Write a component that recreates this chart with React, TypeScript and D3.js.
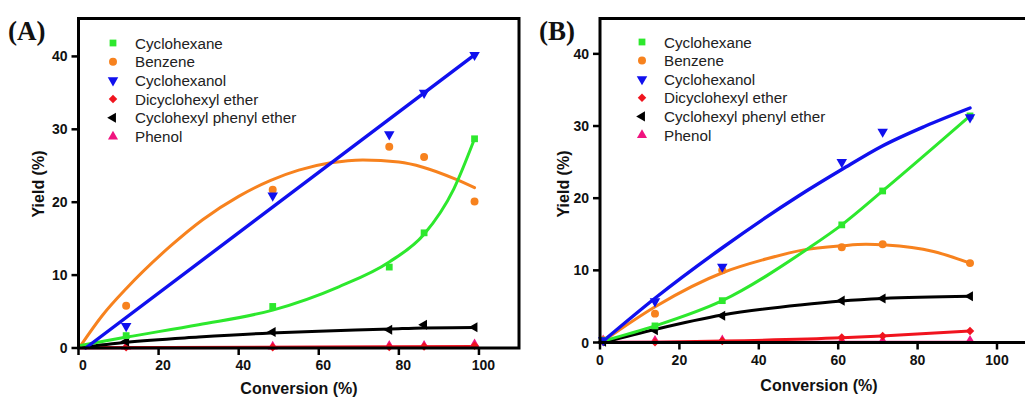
import React from "react";
import * as d3 from "d3";

// ---------- DATA ----------
const seriesNames = [
  "Cyclohexane",
  "Benzene",
  "Cyclohexanol",
  "Dicyclohexyl ether",
  "Cyclohexyl phenyl ether",
  "Phenol",
];
const seriesColors = ["#2de82d", "#f7821e", "#1010ee", "#f0141e", "#000000", "#f0147f"];
const seriesShapes = ["square", "circle", "triDown", "diamond", "triLeft", "triUp"];

const xTicks = [0, 20, 40, 60, 80, 100];
const yTicks = [0, 10, 20, 30, 40];

// Panel A measured points
const convA = [11.9, 48.5, 77.6, 86.3, 98.9];
const A_cyclohexane = [1.7, 5.7, 11.1, 15.8, 28.7];
const A_benzene = [5.8, 21.7, 27.6, 26.2, 20.1];
const A_cyclohexanol = [3.0, 20.9, 29.3, 35.0, 40.2];
const A_dicyclohexylEther = [0.1, 0.1, 0.15, 0.2, 0.3];
const A_cyclohexylPhenylEther = [0.9, 2.2, 2.5, 3.2, 2.85];
const A_phenol = [0.2, 0.2, 0.3, 0.3, 0.5];

// Panel A fitted curves
const fitA_cyclohexane: [number, number][] = [[0, 0.3], [12, 1.5], [30, 3.2], [48.5, 5.2], [65, 8.4], [77.6, 11.8], [86.3, 15.6], [93.7, 21.8], [98.9, 28.7]];
const fitA_benzene: [number, number][] = [[0.5, 0.3], [6, 4.5], [12, 8.2], [23, 14.0], [31, 17.6], [40, 20.8], [48, 23.0], [55, 24.4], [63, 25.4], [71, 25.8], [80, 25.5], [86, 24.8], [94, 23.2], [98.9, 22.0]];
const fitA_cyclohexanol: [number, number][] = [[1.8, 0], [98.9, 40.2]];
const fitA_dicyclohexylEther: [number, number][] = [[0, 0.05], [98.9, 0.2]];
const fitA_cyclohexylPhenylEther: [number, number][] = [[0, 0.05], [12, 0.8], [30, 1.5], [48, 2.05], [60, 2.3], [78, 2.6], [86, 2.75], [98.9, 2.8]];
const fitA_phenol: [number, number][] = [[0, 0.05], [98.9, 0.1]];

// Panel B measured points
const convB = [0.8, 13.85, 30.8, 60.9, 71.2, 93.2];
const B_cyclohexane = [0.3, 2.3, 5.8, 16.3, 21.0, 31.4];
const B_benzene = [0.3, 4.0, 10.0, 13.2, 13.6, 11.0];
const B_cyclohexanol = [0.3, 5.7, 10.5, 25.0, 29.2, 31.2];
const B_dicyclohexylEther = [0.1, 0.05, 0.2, 0.7, 0.9, 1.6];
const B_cyclohexylPhenylEther = [0.1, 1.7, 3.7, 5.8, 6.1, 6.4];
const B_phenol = [0.3, 0.25, 0.3, 0.2, 0.2, 0.25];

// Panel B fitted curves
const fitB_cyclohexane: [number, number][] = [[0.8, 0.2], [13.85, 2.3], [30.8, 5.8], [52.9, 13.2], [60.9, 16.3], [71.2, 21.0], [93.2, 31.4]];
const fitB_benzene: [number, number][] = [[0.8, 0.2], [14, 5.0], [31, 9.7], [42, 11.6], [51, 12.8], [61, 13.4], [67, 13.6], [72, 13.5], [84, 12.6], [93.2, 11.0]];
const fitB_cyclohexanol: [number, number][] = [[0.8, 0.2], [14, 6.2], [31, 13.2], [50, 20.3], [61, 24.0], [71, 27.2], [82, 30.0], [93.2, 32.5]];
const fitB_dicyclohexylEther: [number, number][] = [[0.8, 0.0], [14, 0.05], [31, 0.2], [61, 0.65], [71, 0.9], [93.2, 1.6]];
const fitB_cyclohexylPhenylEther: [number, number][] = [[0.8, 0.0], [13.85, 1.8], [30.8, 3.8], [50.4, 5.2], [60.9, 5.75], [71.2, 6.1], [93.2, 6.4]];
const fitB_phenol: [number, number][] = [[0.8, 0.05], [93.2, 0.05]];

// ---------- DRAWING ----------
const SANS = "'Liberation Sans', Arial, Helvetica, sans-serif";
const SERIF = "'Liberation Serif', 'Times New Roman', serif";

function markerPath(shape: string): { d: string; rot: number } {
  switch (shape) {
    case "square":
      return { d: d3.symbol().type(d3.symbolSquare).size(46)()!, rot: 0 };
    case "circle":
      return { d: d3.symbol().type(d3.symbolCircle).size(50)()!, rot: 0 };
    case "diamond":
      return { d: d3.symbol().type(d3.symbolSquare).size(36)()!, rot: 45 };
    case "triDown":
      return { d: d3.symbol().type(d3.symbolTriangle).size(48)()!, rot: 180 };
    case "triLeft":
      return { d: d3.symbol().type(d3.symbolTriangle).size(44)()!, rot: -90 };
    case "triUp":
      return { d: d3.symbol().type(d3.symbolTriangle).size(44)()!, rot: 0 };
  }
  return { d: "", rot: 0 };
}

function Marker({ x, y, shape, color }: { x: number; y: number; shape: string; color: string }) {
  const m = markerPath(shape);
  return <path d={m.d} transform={`translate(${x},${y}) rotate(${m.rot})`} fill={color} />;
}

type PanelProps = {
  label: string;
  labelX: number;
  x0: number;
  x1: number;
  xMax: number;
  y0: number;
  y1: number;
  yMax: number;
  xLabelDx: number;
  conv: number[];
  values: number[][];
  fits: [number, number][][];
  legendX: number;
  legendY: number;
  legendStep: number;
  yTitleX: number;
  xTitleX: number;
  xTitleY: number;
};

function Panel(p: PanelProps) {
  const x = d3.scaleLinear().domain([0, p.xMax]).range([p.x0, p.x1]);
  const y = d3.scaleLinear().domain([0, p.yMax]).range([p.y0, p.y1]);
  const line = d3
    .line<[number, number]>()
    .x((d) => x(d[0]))
    .y((d) => y(d[1]))
    .curve(d3.curveMonotoneX);
  const drawOrder = [5, 3, 4, 1, 0, 2];
  return (
    <g>
      {/* fitted curves */}
      {drawOrder.map((i) => (
        <path
          key={"f" + i}
          d={line(p.fits[i]) || ""}
          fill="none"
          stroke={seriesColors[i]}
          strokeWidth={i === 2 ? 3.4 : 3}
          strokeLinecap="round"
        />
      ))}
      {/* markers */}
      {drawOrder.map((i) =>
        p.conv.map((c, j) => (
          <Marker key={`m${i}-${j}`} x={x(c)} y={y(p.values[i][j])} shape={seriesShapes[i]} color={seriesColors[i]} />
        ))
      )}
      {/* frame */}
      <rect x={p.x0} y={p.y1} width={p.x1 - p.x0} height={p.y0 - p.y1} fill="none" stroke="#000" strokeWidth={3} />
      {/* x ticks */}
      {xTicks.map((t) => (
        <g key={"xt" + t}>
          <line x1={x(t)} x2={x(t)} y1={p.y0} y2={p.y0 + 7} stroke="#000" strokeWidth={2.5} />
          <text
            x={x(t) + p.xLabelDx}
            y={p.y0 + 17}
            textAnchor="middle"
            dominantBaseline="central"
            fontFamily={SANS}
            fontWeight="bold"
            fontSize={14}
            fill="#111"
          >
            {t}
          </text>
        </g>
      ))}
      {/* y ticks */}
      {yTicks.map((t) => (
        <g key={"yt" + t}>
          <line x1={p.x0 - 7} x2={p.x0} y1={y(t)} y2={y(t)} stroke="#000" strokeWidth={2.5} />
          <text
            x={p.x0 - 11}
            y={y(t)}
            textAnchor="end"
            dominantBaseline="central"
            fontFamily={SANS}
            fontWeight="bold"
            fontSize={14}
            fill="#111"
          >
            {t}
          </text>
        </g>
      ))}
      {/* axis titles */}
      <text
        x={p.xTitleX}
        y={p.xTitleY}
        textAnchor="middle"
        dominantBaseline="central"
        fontFamily={SANS}
        fontWeight="bold"
        fontSize={16}
        fill="#111"
      >
        Conversion (%)
      </text>
      <text
        transform={`translate(${p.yTitleX},${184}) rotate(-90)`}
        textAnchor="middle"
        dominantBaseline="central"
        fontFamily={SANS}
        fontWeight="bold"
        fontSize={16}
        fill="#111"
      >
        Yield (%)
      </text>
      {/* panel label */}
      <text x={p.labelX} y={40} fontFamily={SERIF} fontWeight="bold" fontSize={27} fill="#111">
        {p.label}
      </text>
      {/* legend */}
      {seriesNames.map((n, i) => (
        <g key={"lg" + i}>
          <Marker x={p.legendX} y={p.legendY + i * p.legendStep} shape={seriesShapes[i]} color={seriesColors[i]} />
          <text
            x={p.legendX + 22}
            y={p.legendY + i * p.legendStep}
            dominantBaseline="central"
            fontFamily={SANS}
            fontSize={15.2}
            fill="#222"
          >
            {n}
          </text>
        </g>
      ))}
    </g>
  );
}

export default function App() {
  const valuesA = [A_cyclohexane, A_benzene, A_cyclohexanol, A_dicyclohexylEther, A_cyclohexylPhenylEther, A_phenol];
  const fitsA = [fitA_cyclohexane, fitA_benzene, fitA_cyclohexanol, fitA_dicyclohexylEther, fitA_cyclohexylPhenylEther, fitA_phenol];
  const valuesB = [B_cyclohexane, B_benzene, B_cyclohexanol, B_dicyclohexylEther, B_cyclohexylPhenylEther, B_phenol];
  const fitsB = [fitB_cyclohexane, fitB_benzene, fitB_cyclohexanol, fitB_dicyclohexylEther, fitB_cyclohexylPhenylEther, fitB_phenol];
  return (
    <svg
      width={1025}
      height={397}
      style={{ position: "absolute", left: 0, top: 0, background: "#fff" }}
    >
      <rect x={0} y={0} width={1025} height={397} fill="#fff" />
      <Panel
        label="(A)"
        labelX={8}
        x0={78.5}
        x1={519}
        xMax={110}
        y0={348}
        y1={18.5}
        yMax={45.2}
        xLabelDx={4.5}
        conv={convA}
        values={valuesA}
        fits={fitsA}
        legendX={113}
        legendY={43}
        legendStep={18.7}
        yTitleX={38}
        xTitleX={299}
        xTitleY={388}
      />
      <Panel
        label="(B)"
        labelX={539}
        x0={600}
        x1={1036.7}
        xMax={110}
        y0={342.5}
        y1={18.5}
        yMax={44.9}
        xLabelDx={0}
        conv={convB}
        values={valuesB}
        fits={fitsB}
        legendX={642}
        legendY={42}
        legendStep={18.6}
        yTitleX={563}
        xTitleX={819}
        xTitleY={385}
      />
    </svg>
  );
}
